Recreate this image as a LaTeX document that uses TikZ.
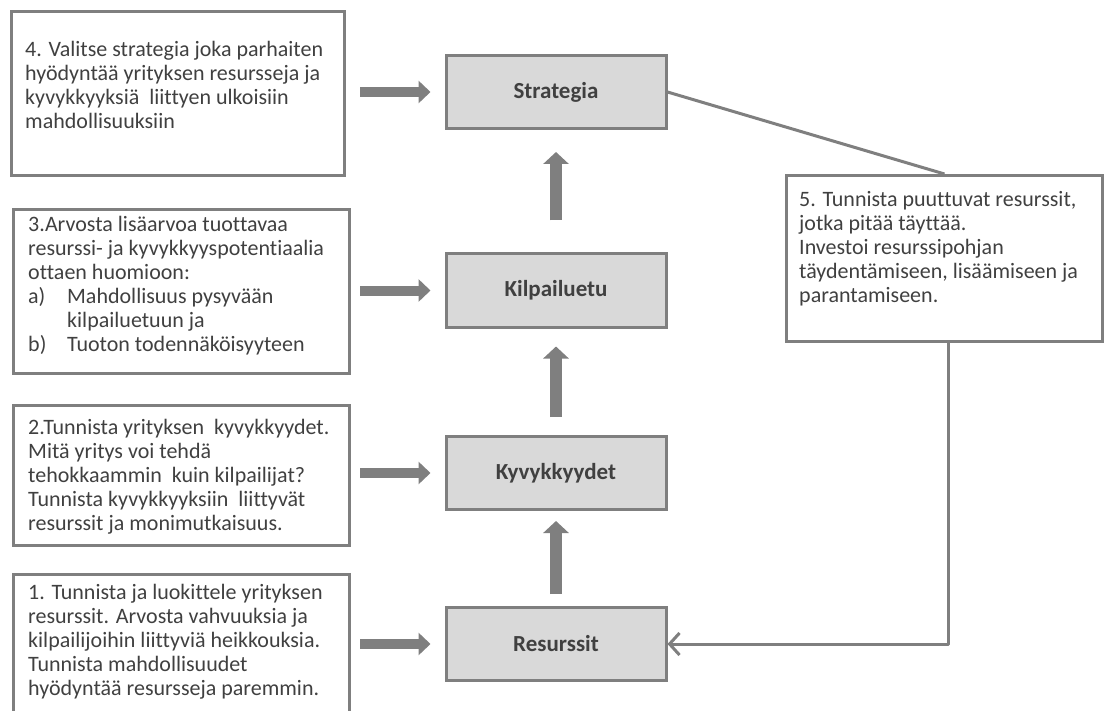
\documentclass[tikz,border=0pt]{standalone}
\usepackage{fontspec}
\setmainfont{Carlito}[Ligatures=NoCommon]
\usetikzlibrary{arrows.meta}
\definecolor{edge}{HTML}{7F7F7F}
\definecolor{ink}{HTML}{404040}
\definecolor{panel}{HTML}{D9D9D9}
\begin{document}
\begin{tikzpicture}[x=1pt,y=-1pt,
  stage/.style={draw=edge, line width=3pt, fill=panel, minimum width=220pt,
    minimum height=73pt, inner sep=0pt, text=ink,
    font=\fontsize{23}{26}\selectfont\bfseries},
  notebox/.style={draw=edge, line width=3pt, inner sep=0pt, anchor=north west},
  % texts are placed by the baseline of their last line
  note/.style={anchor=base west, align=left, inner sep=0pt, text=ink,
    font=\fontsize{22}{24}\selectfont},
  flow/.style={draw=edge, line width=10pt, -{Triangle[length=12pt,width=22pt]}},
  rise/.style={draw=edge, line width=12pt, -{Triangle[length=12pt,width=25pt]}},
  feedback/.style={draw=edge, line width=3pt, line join=round}
]
\useasboundingbox (0,0) rectangle (1105,711);
\clip (0,0) rectangle (1105,711);

% main chain of stages
\node[stage] (strat) at (556,92)    {Strategia};
\node[stage] (kilp)  at (556,290.5) {Kilpailuetu};
\node[stage] (kyv)   at (556,473)   {Kyvykkyydet};
\node[stage] (res)   at (556,644)   {Resurssit};

% explanatory boxes
\node[notebox, minimum width=333pt, minimum height=164pt] (b4) at (10,10) {};
\node[notebox, minimum width=336pt, minimum height=164pt] (b3) at (12,208) {};
\node[notebox, minimum width=336pt, minimum height=140pt] (b2) at (12,404) {};
\node[notebox, minimum width=336pt, minimum height=170pt] (b1) at (12,573) {};
\node[notebox, minimum width=316pt, minimum height=166pt] (b5) at (785,174) {};

\node[note] (t4) at (25,129) {4. Valitse strategia joka parhaiten\\
  hyödyntää yrityksen resursseja ja\\
  kyvykkyyksiä\ \ liittyen ulkoisiin\\
  mahdollisuuksiin};
\node[note] (t3) at (28,351) {3.Arvosta lisäarvoa tuottavaa\\
  resurssi- ja kyvykkyyspotentiaalia\\
  ottaen huomioon:\\
  \makebox[39pt][l]{a)}Mahdollisuus pysyvään\\
  \hspace*{39pt}kilpailuetuun ja\\
  \makebox[39pt][l]{b)}Tuoton todennäköisyyteen};
\node[note] (t2) at (28,530) {2.Tunnista yrityksen\ \ kyvykkyydet.\\
  Mitä yritys voi tehdä\\
  tehokkaammin\ \ kuin kilpailijat?\\
  Tunnista kyvykkyyksiin\ \ liittyvät\\
  resurssit ja monimutkaisuus.};
\node[note] (t1) at (28,695) {1. Tunnista ja luokittele yrityksen\\
  resurssit. Arvosta vahvuuksia ja\\
  kilpailijoihin liittyviä heikkouksia.\\
  Tunnista mahdollisuudet\\
  hyödyntää resursseja paremmin.};
\node[note] (t5) at (799,302) {5. Tunnista puuttuvat resurssit,\\
  jotka pitää täyttää.\\
  Investoi resurssipohjan\\
  täydentämiseen, lisäämiseen ja\\
  parantamiseen.};

% arrows from the explanations into the stages
\draw[flow, shorten <=14pt, shorten >=14pt] (b4.east |- strat.west) -- (strat.west);
\draw[flow, shorten <=9pt,  shorten >=14pt] (b3.east |- kilp.west)  -- (kilp.west);
\draw[flow, shorten <=9pt,  shorten >=14pt] (b2.east |- kyv.west)   -- (kyv.west);
\draw[flow, shorten <=9pt,  shorten >=14pt] (b1.east |- res.west)   -- (res.west);

% upward arrows between stages
\draw[rise, shorten <=12pt, shorten >=10pt] (res.north)  -- (kyv.south);
\draw[rise, shorten <=18pt, shorten >=18pt] (kyv.north)  -- (kilp.south);
\draw[rise, shorten <=32pt, shorten >=22pt] (kilp.north) -- (strat.south);

% feedback loop through step 5
\draw[feedback] (strat.east) -- (b5.north);
\draw[feedback, -{Straight Barb[length=10pt,width=22pt,line width=3pt]}]
  ([xshift=4pt]b5.south) |- (res.east);
\end{tikzpicture}
\end{document}
